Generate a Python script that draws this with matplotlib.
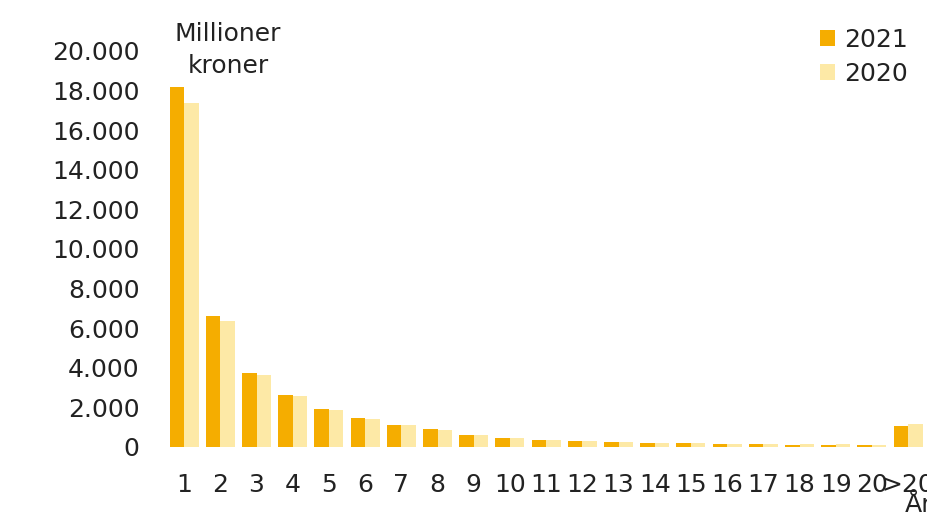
import numpy as np
import matplotlib
matplotlib.use('Agg')
import matplotlib.pyplot as plt

# Data
categories = [str(i) for i in range(1, 21)] + ['>20']
v2021 = [18180, 6620, 3740, 2620, 1920, 1480, 1110, 910, 620, 470, 370,
         320, 270, 220, 220, 170, 170, 120, 120, 120, 1040]
v2020 = [17370, 6360, 3640, 2560, 1870, 1430, 1100, 860, 620, 470, 370,
         300, 250, 220, 220, 170, 170, 170, 170, 120, 1160]
yticks = np.arange(0, 20001, 2000)

C2021 = '#F5AD00'
C2020 = '#FDE9A6'
FONT = 'DejaVu Sans'
FS = 18
TXT = '#222222'

fig = plt.figure(figsize=(9.28, 5.14), dpi=100, facecolor='white')
W, H = 928, 514
ax = fig.add_axes([166 / W, (514 - 447) / H, 21 * 36.2 / W, 396 / H])

x = np.arange(len(categories))
bw = 0.4
ax.bar(x - bw / 2, v2021, bw, color=C2021, label='2021')
ax.bar(x + bw / 2, v2020, bw, color=C2020, label='2020')

ax.set_xlim(-0.5, len(categories) - 0.5)
ax.set_ylim(0, 20000)
ax.set_yticks(yticks)
ax.set_yticklabels([f'{v:,}'.replace(',', '.') for v in yticks],
                   fontsize=FS, family=FONT, color=TXT)
ax.set_xticks(x)
ax.set_xticklabels(categories, fontsize=FS, family=FONT, color=TXT)
ax.tick_params(length=0)
ax.tick_params(axis='x', pad=19)
ax.tick_params(axis='y', pad=19)
for s in ax.spines.values():
    s.set_visible(False)

leg = fig.legend(loc='upper left', bbox_to_anchor=(820 / W, 1 - 28 / H),
                 frameon=False, prop={'family': FONT, 'size': FS},
                 handlelength=0.6, handleheight=0.6, handletextpad=0.35,
                 labelspacing=0.4, borderpad=0, borderaxespad=0)
for t in leg.get_texts():
    t.set_color(TXT)

fig.text(228 / W, 1 - 50 / H, 'Millioner\nkroner', ha='center', va='center',
         fontsize=FS, family=FONT, color=TXT, linespacing=1.45)
fig.text(905 / W, 1 - 493 / H, 'År', ha='left', va='top',
         fontsize=FS, family=FONT, color=TXT)

fig.savefig('out.png', dpi=100, facecolor='white')
